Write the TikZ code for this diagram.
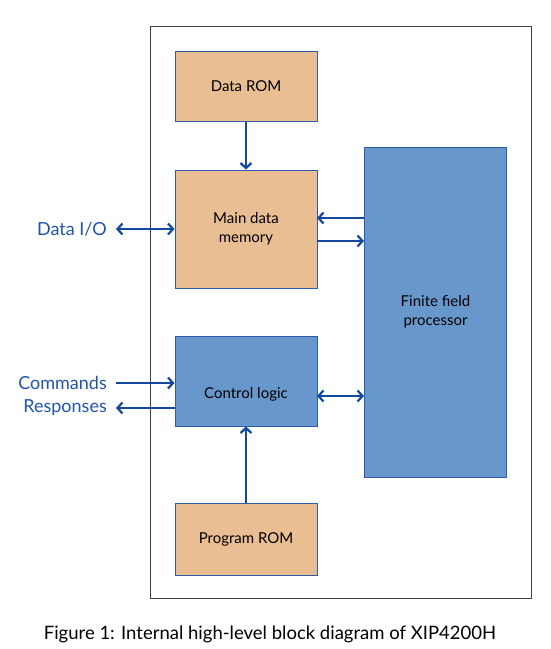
\documentclass[tikz,border=0pt]{standalone}
\usepackage{fontspec}
\setmainfont{Lato}
\usetikzlibrary{arrows.meta}
\definecolor{romfill}{RGB}{233,190,147}
\definecolor{logicfill}{RGB}{104,151,204}
\definecolor{edgeblue}{RGB}{47,92,170}
\definecolor{wireblue}{RGB}{18,72,160}
\definecolor{labelblue}{RGB}{32,84,172}
\tikzset{
  frame/.style={draw=black!75,line width=0.8pt},
  membox/.style={draw=edgeblue,fill=romfill,line width=1pt,minimum width=142pt,align=center,font=\fontsize{15}{19}\selectfont},
  logicbox/.style={draw=edgeblue,fill=logicfill,line width=1pt,minimum width=142pt,align=center,font=\fontsize{15}{19}\selectfont},
  wire/.style={draw=wireblue,line width=2.2pt,-{Straight Barb[length=5pt,width=11pt]}},
  bwire/.style={wire,{Straight Barb[length=5pt,width=11pt]}-{Straight Barb[length=5pt,width=11pt]}},
  iolabel/.style={text=labelblue,font=\fontsize{18}{20}\selectfont,inner sep=0pt}
}
\begin{document}
\begin{tikzpicture}[x=1pt,y=-1pt]
  \useasboundingbox (0,0) rectangle (551,649);
  \draw[frame] (150.5,26) rectangle (531,598);
  % storage and logic blocks
  \node[membox,minimum height=70pt] (drom) at (246,86) {Data ROM};
  \node[membox,minimum height=118pt] (mem) at (246,229) {Main data\\memory};
  \node[logicbox,minimum height=90pt] (ctrl) at (246,381) {};
  \node[font=\fontsize{15}{19}\selectfont] (ctrltext) at (246,394) {Control logic};
  \node[membox,minimum height=72pt] (prom) at (246,539) {Program ROM};
  \node[logicbox,minimum height=330pt] (ffp) at (435.5,312) {Finite field\\processor};
  % outside signals
  \node[iolabel,anchor=east] (dio) at (107,229) {Data I/O};
  \node[iolabel,anchor=east] (cmd) at (107,383) {Commands};
  \node[iolabel,anchor=east] (rsp) at (107,408) {Responses};
  \coordinate (dioend) at (116,229);
  \coordinate (cmdend) at (116,383);
  \coordinate (rspend) at (116,408);
  \coordinate (backin) at (317,218);
  \coordinate (fwdout) at (317,241);
  \coordinate (ctrlport) at (317,396);
  % connections
  \draw[wire] (drom) -- (mem);
  \draw[wire] (prom) -- (ctrl);
  \draw[bwire] (dioend) -- (mem.west);
  \draw[wire] (cmdend) -- (cmdend -| ctrl.west);
  \draw[wire] (rspend -| ctrl.west) -- (rspend);
  \draw[wire] (backin -| ffp.west) -- (backin);
  \draw[wire] (fwdout) -- (fwdout -| ffp.west);
  \draw[bwire] (ctrlport) -- (ctrlport -| ffp.west);
  \node[font=\fontsize{18.5}{20}\selectfont] (cap) at (270,634) {Figure 1: Internal high-level block diagram of XIP4200H};
\end{tikzpicture}
\end{document}
